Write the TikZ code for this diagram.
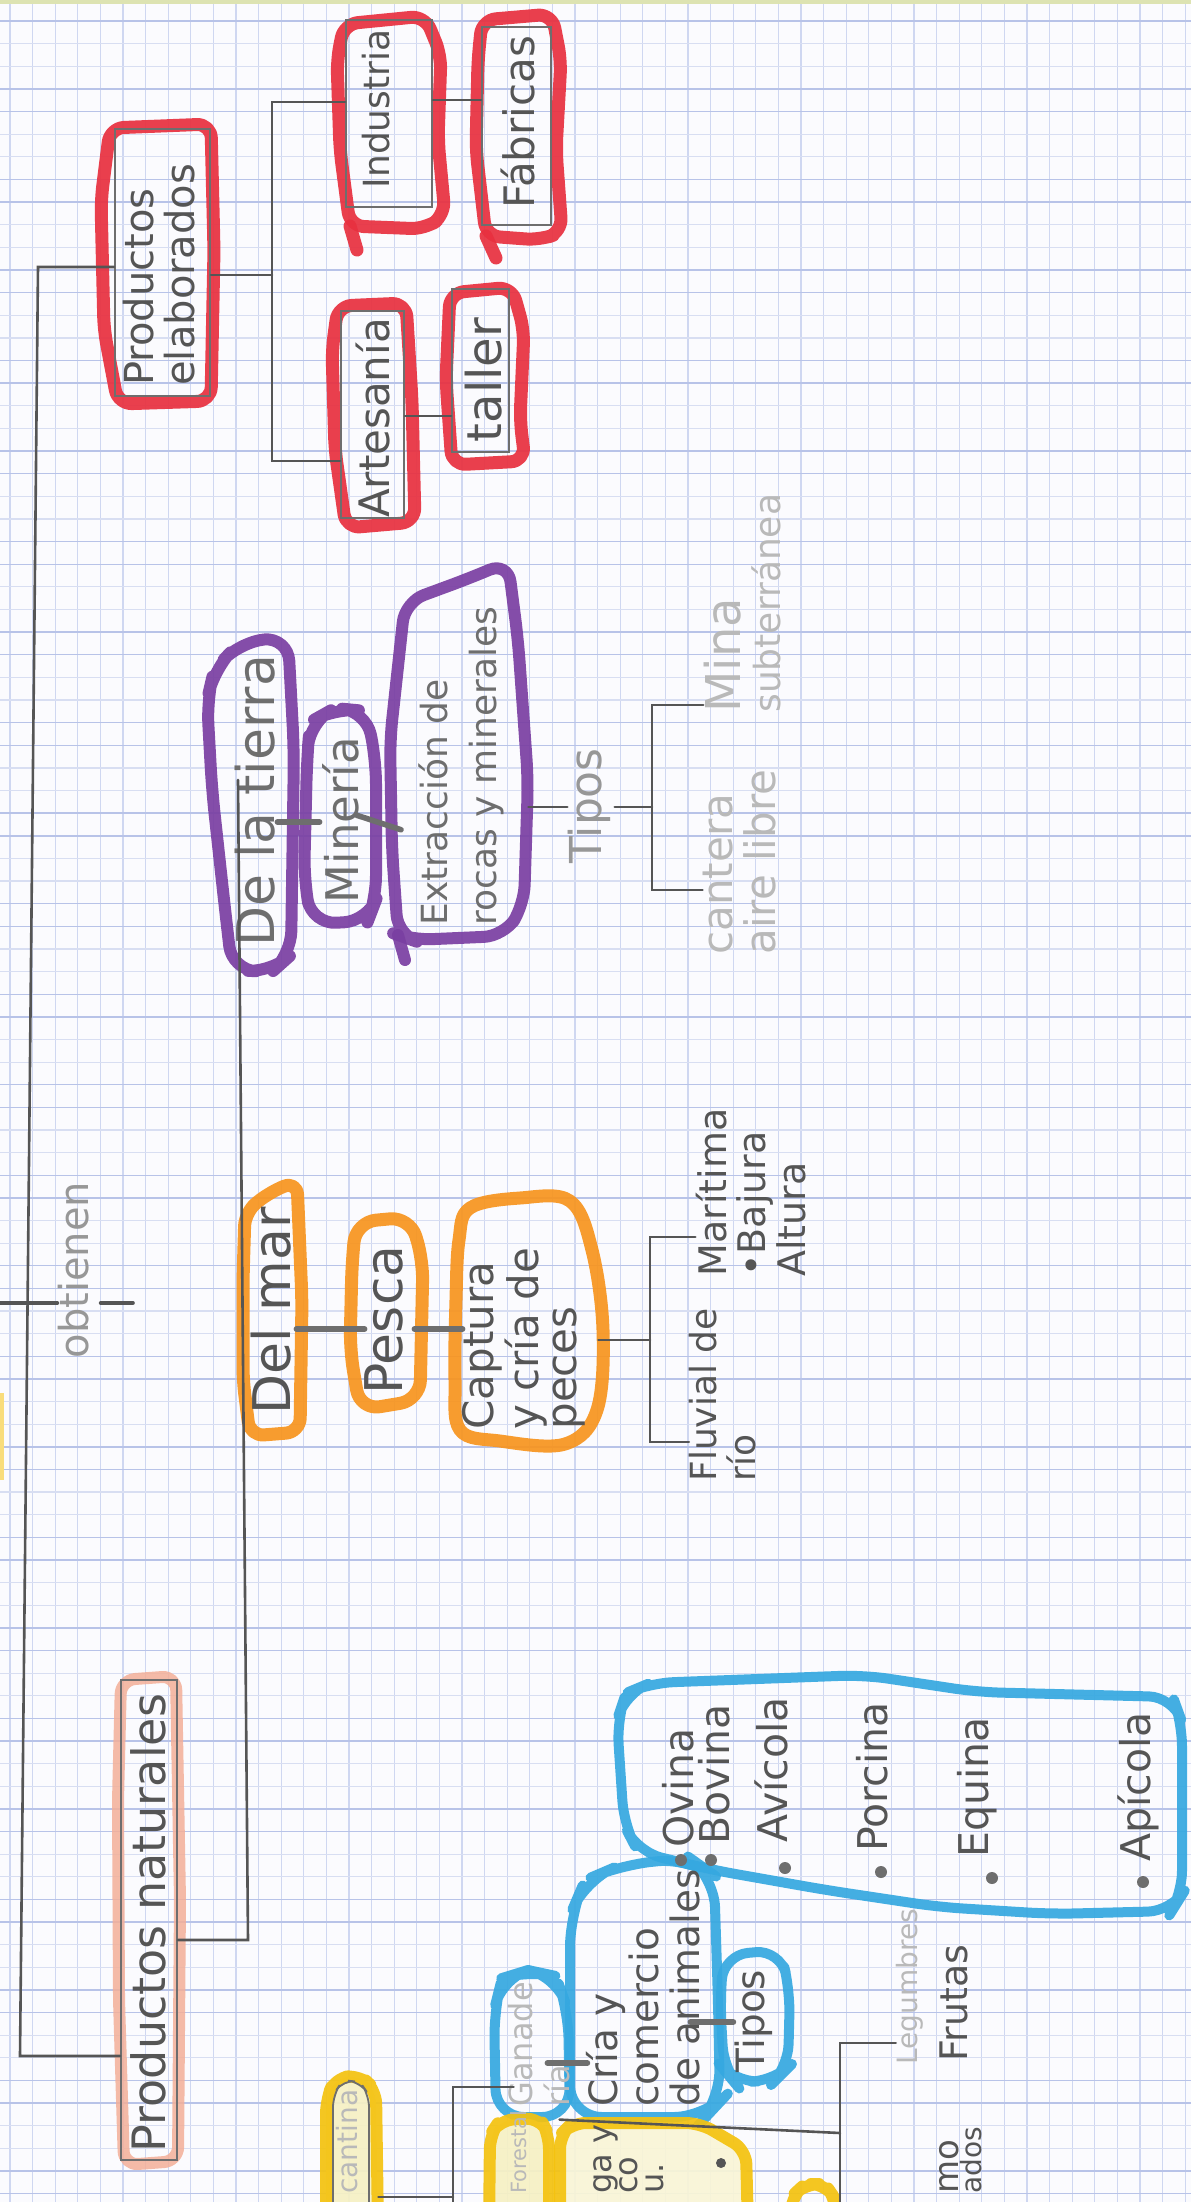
\documentclass[tikz,border=0pt]{standalone}
\usepackage{graphicx}
\usepackage{fontspec}
\setmainfont{DejaVu Sans}
\usetikzlibrary{calc}

\definecolor{paper}{HTML}{FBFBFE}
\definecolor{gridA}{HTML}{B8C3E8}
\definecolor{gridB}{HTML}{D8DEF2}
\definecolor{gridV}{HTML}{CFD7F1}
\definecolor{pencil}{HTML}{555555}
\definecolor{pencilM}{HTML}{6E6E6E}
\definecolor{faint}{HTML}{979797}
\definecolor{vfaint}{HTML}{B9B9B9}
\definecolor{mRed}{HTML}{E8303F}
\definecolor{mPurple}{HTML}{7A3FA2}
\definecolor{mOrange}{HTML}{F7941E}
\definecolor{mBlue}{HTML}{35A8E0}
\definecolor{mSalmon}{HTML}{F3AF98}
\definecolor{mYellow}{HTML}{F4C20F}
\definecolor{yFill}{HTML}{F6F1C4}
\definecolor{edge}{HTML}{DDE3B2}

\newcommand{\vtxt}[3]{\rotatebox{90}{\fontsize{#1}{#2}\selectfont\begin{tabular}{@{}l@{}}#3\end{tabular}}}

\begin{document}
\begin{tikzpicture}[x=0.5pt,y=-0.5pt,
  pl/.style={draw=pencil, line width=1.3pt, line cap=round},
  bar/.style={draw=pencilM, line width=2.8pt, line cap=round},
  gbox/.style 2 args={draw=pencilM, line width=0.9pt, inner sep=0pt, minimum width={#1*0.5pt}, minimum height={#2*0.5pt}},
  hbox/.style 2 args={inner sep=0pt, minimum width={#1*0.5pt}, minimum height={#2*0.5pt}},
  tx/.style={inner sep=0pt, text=pencil},
  tf/.style={inner sep=0pt, text=faint},
  mk/.style={line join=round, line cap=round, rounded corners=7pt, opacity=0.92},
  mred/.style={mk, draw=mRed, line width=6.5pt},
  mpur/.style={mk, draw=mPurple, line width=6pt},
  mor/.style={mk, draw=mOrange, line width=6.5pt},
  mblue/.style={mk, draw=mBlue, line width=5pt},
  msal/.style={mk, draw=mSalmon, line width=6pt, opacity=0.85},
  myel/.style={mk, draw=mYellow, line width=6pt}
]
\useasboundingbox (0,0) rectangle (1191,2202);
\clip (0,0) rectangle (1191,2202);
\fill[paper] (0,0) rectangle (1191,2202);

% ---------- squared paper ----------
\foreach \i in {0,...,52} \draw[gridV, line width=0.6pt] ({10+22.6*\i},0) -- ({10+22.6*\i},2202);
\foreach \m in {-1,...,23} {
  \draw[gridA, line width=0.7pt] (0,{89+22.63*4*\m}) -- (1191,{89+22.63*4*\m});
  \draw[gridA, line width=0.7pt] (0,{89+22.63*(4*\m+1)}) -- (1191,{89+22.63*(4*\m+1)});
  \draw[gridB, line width=0.6pt] (0,{89+22.63*(4*\m+2)}) -- (1191,{89+22.63*(4*\m+2)});
  \draw[gridB, line width=0.6pt] (0,{89+22.63*(4*\m+3)}) -- (1191,{89+22.63*(4*\m+3)});
}
\fill[edge] (0,0) rectangle (1191,4);
\fill[mYellow!55] (0,1393) rectangle (4,1480);

% ---------- marker outlines ----------
% red
\draw[mred] (110,128) -- (211,124) -- (214,250) -- (211,401) -- (118,404) -- (104,330) -- (101,200) -- cycle;
\draw[mred] (344,24) -- (425,16) -- (441,55) -- (438,140) -- (445,215) -- (425,229) -- (350,226) -- (340,150) -- (337,60) -- cycle;
\draw[mred] (350,226) -- (357,250);
\draw[mred] (482,20) -- (552,14) -- (561,60) -- (556,150) -- (562,232) -- (540,240) -- (486,236) -- (476,150) -- (478,60) -- cycle;
\draw[mred] (486,236) -- (496,258);
\draw[mred] (338,306) -- (406,303) -- (412,400) -- (415,522) -- (346,528) -- (335,450) -- (332,350) -- cycle;
\draw[mred] (450,293) -- (512,287) -- (524,330) -- (520,420) -- (525,461) -- (452,465) -- (446,380) -- cycle;
% purple
\draw[mpur, rounded corners=12pt] (214,670) -- (240,642) -- (288,637) -- (294,750) -- (291,955) -- (272,972) -- (232,970) -- (224,900) -- (212,790) -- (207,700) -- cycle;
\draw[mpur, rounded corners=12pt] (310,722) -- (335,708) -- (366,711) -- (376,760) -- (376,900) -- (368,921) -- (312,924) -- (304,880) -- (307,760) -- cycle;
\draw[mpur, rounded corners=10pt] (405,602) -- (470,578) -- (508,562) -- (518,640) -- (528,780) -- (524,905) -- (504,936) -- (412,940) -- (398,935) -- (392,850) -- (390,740) -- cycle;
\draw[mpur] (398,935) -- (405,960);
% orange
\draw[mor] (245,1212) -- (270,1192) -- (297,1181) -- (302,1300) -- (300,1432) -- (250,1436) -- (243,1380) -- (243,1280) -- cycle;
\draw[mor, rounded corners=10pt] (356,1222) -- (410,1217) -- (423,1260) -- (420,1400) -- (360,1410) -- (350,1350) -- (352,1262) -- cycle;
\draw[mor, sharp corners] plot[smooth cycle, tension=0.6] coordinates {(470,1208) (520,1198) (570,1201) (592,1250) (603,1330) (597,1410) (565,1444) (500,1441) (460,1430) (455,1380) (456,1300) (459,1240)};
% salmon
\draw[msal] (121,1680) -- (176,1676) -- (180,1900) -- (178,2161) -- (124,2165) -- (119,2000) -- (118,1800) -- cycle;
% blue
\draw[mblue, rounded corners=14pt] (496,2117) -- (494,2010) -- (502,1978) -- (528,1970) -- (556,1976) -- (568,2010) -- (570,2117) -- cycle;
\draw[mblue, rounded corners=16pt] (570,2117) -- (570,1915) -- (585,1880) -- (620,1865) -- (690,1858) -- (714,1875) -- (718,2000) -- (720,2102) -- (706,2117) -- cycle;
\draw[mblue, rounded corners=12pt] (724,1955) -- (780,1950) -- (790,1990) -- (788,2068) -- (775,2081) -- (734,2082) -- (724,2070) -- (720,2000) -- cycle;
\draw[mblue, rounded corners=12pt] (638,1852) -- (624,1825) -- (617,1720) -- (626,1693) -- (650,1683) -- (864,1675) -- (977,1692) -- (1173,1697) -- (1182,1722) -- (1182,1895) -- (1172,1911) -- (1052,1914) -- (939,1907) -- (826,1890) -- (713,1870) -- cycle;
% yellow
\filldraw[myel, fill=yFill] (326,2230) -- (326,2100) -- (335,2078) -- (360,2075) -- (376,2090) -- (378,2230);
\filldraw[myel, fill=yFill] (489,2230) -- (490,2135) -- (500,2120) -- (540,2118) -- (549,2135) -- (549,2230);
\filldraw[myel, fill=yFill!70] (560,2230) -- (560,2135) -- (572,2123) -- (700,2123) -- (746,2150) -- (748,2230);
\draw[myel] (790,2230) -- (792,2196) -- (805,2184) -- (825,2184) -- (836,2200) -- (836,2230);
\draw[pencilM, line width=0.9pt, rounded corners=6pt] (333,2230) -- (333,2095) -- (343,2080) -- (360,2082) -- (369,2095) -- (369,2230);

% ---------- box nodes ----------
\node[gbox={95}{267}] (pe) at (162.5,262.5) {};
\node[gbox={86}{187}] (ind) at (389,113.5) {};
\node[gbox={69}{198}] (fab) at (516.5,126) {};
\node[gbox={63}{207}] (art) at (372.5,414.5) {};
\node[gbox={57}{163}] (tal) at (480.5,370.5) {};
\node[hbox={84}{336}] (dlt) at (253,805) {};
\node[hbox={73}{216}] (min) at (340.5,815) {};
\node[hbox={138}{402}] (ext) at (459,761) {};
\node[hbox={61}{257}] (dm) at (272.5,1308.5) {};
\node[hbox={73}{196}] (pes) at (386.5,1315) {};
\node[hbox={154}{248}] (cap) at (531,1321) {};
\node[gbox={56}{480}] (pn) at (149,1920) {};
\node[hbox={77}{147}] (gan) at (531.5,2043.5) {};
\node[hbox={152}{259}] (cria) at (644,1987.5) {};
\node[hbox={70}{135}] (tip2) at (755,2015.5) {};
\node[hbox={565}{253}] (lst) at (899.5,1798.5) {};
\node[hbox={53}{120}] (yc) at (351.5,2140) {};
\node[hbox={61}{80}] (yb1) at (518.5,2160) {};
\node[hbox={188}{76}] (yb2) at (654,2161) {};

% ---------- texts ----------
\node[tx, anchor=south] (pe-t) at (164,386) {\vtxt{20}{17.5}{Productos\\elaborados}};
\node[tx] (ind-t) at (381,109) {\vtxt{18}{18}{Industria}};
\node[tx] (fab-t) at (524,122) {\vtxt{21}{21}{Fábricas}};
\node[tx] (art-t) at (379,418) {\vtxt{21}{21}{Artesanía}};
\node[tx] (tal-t) at (490,380) {\vtxt{24}{24}{taller}};

\node[tx, text=pencilM] (dlt-t) at (263,801) {\vtxt{26}{26}{De la tierra}};
\node[tx, text=pencilM] (min-t) at (347,820) {\vtxt{22.5}{22.5}{Minería}};
\node[tx, text=pencilM, anchor=south] (ext-t) at (462,926) {\vtxt{18}{24.5}{Extracción de\\rocas y minerales}};
\node[tf] (tip1) at (591,806) {\vtxt{22}{22}{Tipos}};
\node[tf, text=vfaint, anchor=south] (mina) at (748,713) {\vtxt{18}{19.5}{{\fontsize{24}{19.5}\selectfont Mina}\\subterránea}};
\node[tf, text=vfaint, anchor=south] (cant) at (745,955) {\vtxt{21}{19}{cantera\\aire libre}};

\node[tx] (dm-t) at (279,1311) {\vtxt{26}{26}{Del mar}};
\node[tx] (pes-t) at (391,1320) {\vtxt{26}{26}{Pesca}};
\node[tx, anchor=south] (cap-t) at (525,1430) {\vtxt{21}{19}{Captura\\y cría de\\peces}};
\node[tx, anchor=south] (mar-t) at (756,1277) {\vtxt{19}{18}{Marítima\\\textbullet Bajura\\Altura}};
\node[tx, anchor=south] (flu-t) at (727,1482) {\vtxt{18}{16}{Fluvial de\\río}};

\node[tx] (pn-t) at (155,1923) {\vtxt{23}{23}{Productos naturales}};
\node[tf] (obt) at (79,1270) {\vtxt{20}{20}{obtienen}};

\node[tf, text=vfaint, anchor=south] (gan-t) at (544,2107) {\vtxt{16}{18.5}{Ganade\\ría}};
\node[tx, anchor=south] (cria-t) at (649,2107) {\vtxt{19.5}{19}{Cría y\\comercio\\de animales}};
\node[tx] (tip2-t) at (756,2021) {\vtxt{19.5}{19.5}{Tipos}};

\node[tx, anchor=south] (i1) at (684,1848) {\vtxt{20.5}{20.5}{Ovina}};
\node[tx, anchor=south] (i2) at (720,1845) {\vtxt{20.5}{20.5}{Bovina}};
\node[tx, anchor=south] (i3) at (777,1843) {\vtxt{20.5}{20.5}{Avícola}};
\node[tx, anchor=south] (i4) at (878,1852) {\vtxt{20.5}{20.5}{Porcina}};
\node[tx, anchor=south] (i5) at (979,1858) {\vtxt{20.5}{20.5}{Equina}};
\node[tx, anchor=south] (i6) at (1140,1862) {\vtxt{20.5}{20.5}{Apícola}};
\foreach \bx/\by in {681/1860, 711/1860, 785/1868, 881/1872, 992/1878, 1143/1882}
  \fill[pencilM] (\bx,\by) circle (6);

\node[tf, text=vfaint, anchor=south] (yc-t) at (351,2194) {\vtxt{14}{14}{cantina}};
\node[tf, text=vfaint, anchor=south] (yb1-t) at (522,2194) {\vtxt{10.5}{10.5}{Forestal}};
\node[tx, anchor=south] (yb2-t) at (632,2194) {\vtxt{16}{13}{ga y\\co\\u.}};
\fill[pencil] (721,2163) circle (5);
\node[tf, text=vfaint, anchor=south] (leg) at (911,2065) {\vtxt{14}{14}{Legumbres}};
\node[tx, anchor=south] (fru) at (959,2062) {\vtxt{19}{19}{Frutas}};
\node[tx, anchor=south] (mo) at (952,2194) {\vtxt{17}{17}{mo}};
\node[tx, anchor=south] (ados) at (975,2194) {\vtxt{14}{14}{ados}};

% ---------- pencil connectors ----------
\coordinate (s1t) at (38,267);
\coordinate (s1b) at (20,2056);
\draw[pl] (pe.west |- s1t) -- (s1t) -- (s1b) -- (pn.west |- s1b);

\coordinate (t1) at (272,275);
\coordinate (t1a) at (272,102);
\coordinate (t1b) at (272,461);
\draw[pl] (pe.east |- t1) -- (t1);
\draw[pl] (ind.west |- t1a) -- (t1a) -- (t1b) -- (art.west |- t1b);
\coordinate (yif) at (0,100);
\draw[pl] (ind.east |- yif) -- (fab.west |- yif);
\coordinate (yat) at (0,416);
\draw[pl] (art.east |- yat) -- (tal.west |- yat);

\coordinate (ob1) at (0,1303);
\coordinate (ob3) at (133,1303);
\draw[pl, line width=1.8pt] (ob1) -- (obt.west |- ob1);
\draw[pl, line width=1.8pt] (obt.east |- ob1) -- (ob3);

\coordinate (s2t) at (238,780);
\coordinate (s2b) at (248,1940);
\draw[pl] (s2t) -- (s2b) -- (pn.east |- s2b);

\coordinate (y822) at (0,822);
\coordinate (y826) at (0,826);
\draw[bar, shorten <=-9pt, shorten >=-8pt] (dlt.east |- y822) -- (min.west |- y822);
\draw[bar, shorten <=-11pt, shorten >=-6pt] (min.east |- y822) -- (ext.west |- y826);
\coordinate (y807) at (0,807);
\draw[pl] (ext.east |- y807) -- (tip1.west |- y807);
\coordinate (b1t) at (652,705);
\coordinate (b1m) at (652,807);
\coordinate (b1b) at (652,890);
\draw[pl] (tip1.east |- b1m) -- (b1m);
\draw[pl] (mina.west |- b1t) -- (b1t) -- (b1b) -- (cant.west |- b1b);

\coordinate (y1329) at (0,1329);
\draw[bar, shorten <=-3.5pt, shorten >=-7.5pt] (dm.east |- y1329) -- (pes.west |- y1329);
\draw[bar, shorten <=-4.5pt, shorten >=-4.5pt] (pes.east |- y1329) -- (cap.west |- y1329);
\coordinate (b2t) at (650,1237);
\coordinate (b2m) at (650,1340);
\coordinate (b2b) at (650,1442);
\draw[pl, shorten <=-5pt] (cap.east |- b2m) -- (b2m);
\draw[pl] (mar-t.west |- b2t) -- (b2t) -- (b2b) -- (flu-t.west |- b2b);

\coordinate (y2063) at (0,2063);
\coordinate (y2022) at (0,2022);
\draw[bar] (gan.east |- y2063) ++(-23,0) -- ++(40,0);
\draw[bar] (cria.east |- y2022) ++(-30,0) -- ++(43,0);

\coordinate (b3t) at (453,2087);
\coordinate (b3b) at (453,2197);
\coordinate (b3e) at (453,2215);
\draw[pl] (gan.west |- b3t) ++(21,0) -- (b3t) -- (b3e);
\draw[pl] (yc.east |- b3b) -- (b3b);

\coordinate (b4t) at (840,2043);
\coordinate (b4m) at (840,2133);
\coordinate (b4e) at (840,2215);
\draw[pl] (yb2.north west) ++(0,-3) -- (b4m);
\draw[pl] (leg.west |- b4t) -- (b4t) -- (b4e);
\end{tikzpicture}
\end{document}
